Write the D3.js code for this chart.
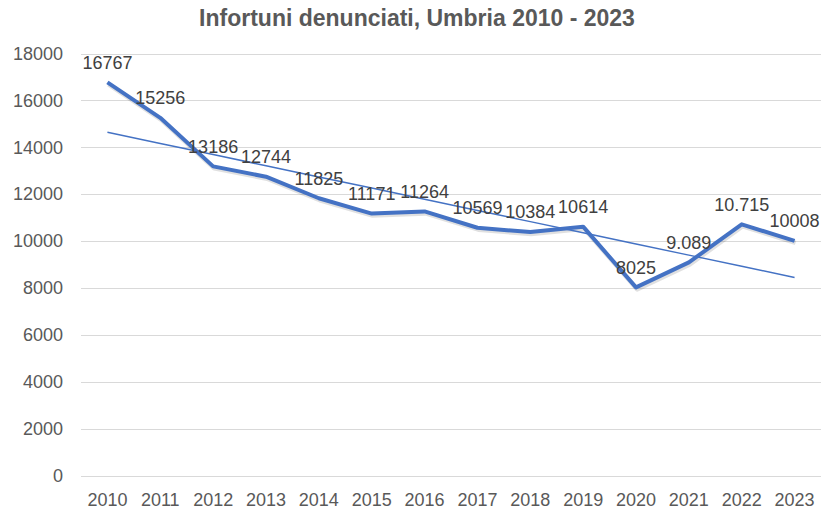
<!DOCTYPE html>
<head>
  <meta charset="utf-8">
  <title>Infortuni denunciati, Umbria 2010 - 2023</title>
  <script src="https://cdn.jsdelivr.net/npm/d3@7"></script>
  <style>
  body { margin: 0; background: #fff; }
  .grid line { stroke: #d9d9d9; stroke-width: 1px; }
  .axis text { fill: #595959; font-family: "Liberation Sans", Arial, sans-serif; font-size: 18px; }
  .labels text { fill: #404040; font-family: "Liberation Sans", Arial, sans-serif; font-size: 18px; }
  </style>
</head>

<body>
  <script type="text/javascript">
    var WIDTH = 822;
    var HEIGHT = 512;

    // data
    var years = ["2010", "2011", "2012", "2013", "2014", "2015", "2016",
                 "2017", "2018", "2019", "2020", "2021", "2022", "2023"];
    var infortuni = [16767, 15256, 13186, 12744, 11825, 11171, 11264,
                     10569, 10384, 10614, 8025, 9089, 10715, 10008];
    var etichette = ["16767", "15256", "13186", "12744", "11825", "11171", "11264",
                     "10569", "10384", "10614", "8025", "9.089", "10.715", "10008"];
    var yTicks = [0, 2000, 4000, 6000, 8000, 10000, 12000, 14000, 16000, 18000];

    var svg = d3.select("body").append("svg")
                .attr("width", WIDTH)
                .attr("height", HEIGHT);

    var x = d3.scaleBand().domain(years).range([81, 821]);
    var y = d3.scaleLinear().domain([0, 18000]).range([475.5, 53.5]);
    var cx = function(d){ return x(d) + x.bandwidth() / 2; };

    // title
    svg.append("text")
      .attr("x", 417)
      .attr("y", 26)
      .attr("text-anchor", "middle")
      .style("font-family", "'Liberation Sans', Arial, sans-serif")
      .style("font-weight", "bold")
      .style("font-size", "23px")
      .style("fill", "#595959")
      .text("Infortuni denunciati, Umbria 2010 - 2023");

    // gridlines
    svg.append("g").attr("class", "grid")
      .selectAll("line")
      .data(yTicks)
      .enter()
      .append("line")
      .attr("x1", 81).attr("x2", 821)
      .attr("y1", function(d){ return Math.round(y(d)) + 0.5; })
      .attr("y2", function(d){ return Math.round(y(d)) + 0.5; });

    // y axis
    var yAxis = svg.append("g").attr("class", "axis")
      .attr("transform", "translate(70,0)")
      .call(d3.axisLeft(y).tickValues(yTicks).tickSize(0).tickPadding(7).tickFormat(d3.format("d")));
    yAxis.select(".domain").remove();

    // x axis
    var xAxis = svg.append("g").attr("class", "axis")
      .attr("transform", "translate(0,490)")
      .call(d3.axisBottom(x).tickSize(0).tickPadding(0));
    xAxis.select(".domain").remove();
    xAxis.selectAll("text").attr("dy", "0.35em").attr("y", 10);

    // linear trendline (least squares on the series)
    var n = infortuni.length;
    var mx = d3.mean(d3.range(n));
    var my = d3.mean(infortuni);
    var sxy = d3.sum(infortuni, function(v, i){ return (i - mx) * (v - my); });
    var sxx = d3.sum(d3.range(n), function(i){ return (i - mx) * (i - mx); });
    var slope = sxy / sxx;
    var icpt = my - slope * mx;
    var trend = years.map(function(yr, i){ return { year: yr, v: icpt + slope * i }; });

    var line = d3.line()
      .x(function(d){ return cx(d.year); })
      .y(function(d){ return y(d.v); });

    var series = years.map(function(yr, i){ return { year: yr, v: infortuni[i] }; });

    // soft shadow under the main line
    svg.append("path")
      .datum(series)
      .attr("d", line)
      .attr("transform", "translate(1,2)")
      .attr("fill", "none")
      .attr("stroke", "#000")
      .attr("stroke-opacity", 0.12)
      .attr("stroke-width", 4.5)
      .attr("stroke-linejoin", "round");

    svg.append("path")
      .datum(series)
      .attr("d", line)
      .attr("fill", "none")
      .attr("stroke", "#4472c4")
      .attr("stroke-width", 4)
      .attr("stroke-linejoin", "round");

    svg.append("path")
      .datum(trend)
      .attr("d", line)
      .attr("fill", "none")
      .attr("stroke", "#4472c4")
      .attr("stroke-width", 1.5);

    // data labels
    svg.append("g").attr("class", "labels")
      .selectAll("text")
      .data(series)
      .enter()
      .append("text")
      .attr("x", function(d){ return cx(d.year); })
      .attr("y", function(d){ return y(d.v) - 20; })
      .attr("dy", "0.35em")
      .attr("text-anchor", "middle")
      .text(function(d, i){ return etichette[i]; });
  </script>
</body>
